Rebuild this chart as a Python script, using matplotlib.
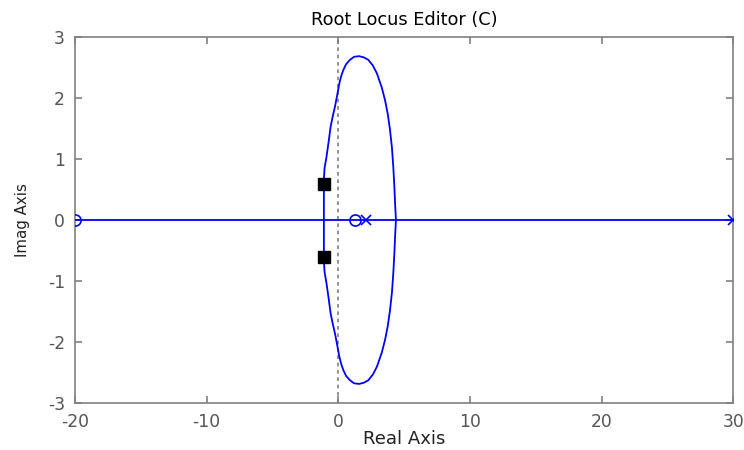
import matplotlib
matplotlib.use("Agg")
import matplotlib.pyplot as plt
import numpy as np

plt.rcParams['font.family'] = ['DejaVu Sans']
plt.rcParams['axes.unicode_minus'] = False

# Upper half of the complex locus branch (real, imag); lower half is its mirror
locus_re = [-1.09, -1.09, -1.04, -0.89, -0.72, -0.58, -0.42, -0.25, -0.08, 0.08,
            0.22, 0.38, 0.60, 0.89, 1.20, 1.59, 1.95, 2.28, 2.62, 2.93, 3.30,
            3.55, 3.76, 3.93, 4.08, 4.18, 4.26, 4.32, 4.38]
locus_im = [0.0, 0.66, 0.85, 1.04, 1.30, 1.53, 1.70, 1.86, 2.05, 2.24,
            2.36, 2.46, 2.56, 2.63, 2.68, 2.69, 2.67, 2.63, 2.54, 2.41, 2.18,
            1.97, 1.74, 1.48, 1.18, 0.87, 0.55, 0.25, 0.0]

# Real-axis locus segment
axis_re = [-20, 30]
axis_im = [0, 0]

# Open-loop zeros and poles
zeros_re = [-20, 1.29]
poles_re = [2.1, 30]

# Closed-loop poles (current gain)
cl_re = [-1.06, -1.06]
cl_im = [0.6, -0.6]

xticks = [-20, -10, 0, 10, 20, 30]
yticks = [-3, -2, -1, 0, 1, 2, 3]

fig = plt.figure(figsize=(7.44, 4.5), dpi=100)
ax = fig.add_axes([0.1005, 0.1049, 0.8853, 0.8122])

blue = '#0000ff'
re = np.array(locus_re)
im = np.array(locus_im)
ax.plot(re, im, color=blue, lw=1.3, zorder=3)
ax.plot(re, -im, color=blue, lw=1.3, zorder=3)
ax.plot(axis_re, axis_im, color=blue, lw=1.3, zorder=3)

ax.axvline(0, color='#808080', lw=1.2, ls=(0, (2.2, 2.2)), zorder=2)

ax.plot(zeros_re, [0] * len(zeros_re), ls='none', marker='o', ms=8,
        mfc='none', mec=blue, mew=1.2, zorder=4)
ax.plot(poles_re, [0] * len(poles_re), ls='none', marker='x', ms=7,
        mec=blue, mew=1.2, zorder=4)
ax.plot(cl_re, cl_im, ls='none', marker='s', ms=9, mfc='black',
        mec='black', zorder=5)

ax.set_xlim(-20, 30)
ax.set_ylim(-3, 3)
ax.set_xticks(xticks)
ax.set_yticks(yticks)

frame = '#808080'
for s in ax.spines.values():
    s.set_color(frame)
    s.set_linewidth(1.2)
ax.tick_params(direction='in', length=5, width=1.2, color=frame,
               labelcolor='#555555', labelsize=12.3, top=True, right=True,
               pad=7)

ax.set_title('Root Locus Editor (C)', fontsize=12.8, color='black', pad=9)
ax.set_xlabel('Real Axis', fontsize=13, color='#222222', va='top')
ax.xaxis.set_label_coords(0.5, -0.074)
ax.set_ylabel('Imag Axis', fontsize=10.8, color='#222222')
ax.yaxis.set_label_coords(-0.068, 0.5)

fig.savefig('out.png', dpi=100)
